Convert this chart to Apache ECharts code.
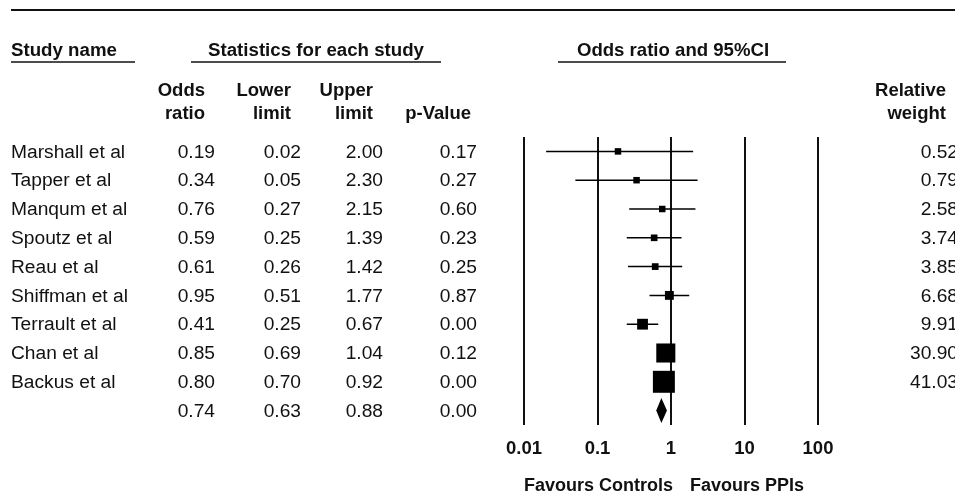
<!DOCTYPE html>
<html>
<head>
<meta charset="utf-8">
<script src="https://cdn.jsdelivr.net/npm/echarts@6/dist/echarts.min.js"></script>
<style>
  html, body { margin: 0; padding: 0; background: #fff; }
  #chart { width: 955px; height: 498px; }
</style>
</head>
<body>
<div id="chart"></div>
<script>
// study table
var studies = ['Marshall et al', 'Tapper et al', 'Manqum et al', 'Spoutz et al', 'Reau et al',
  'Shiffman et al', 'Terrault et al', 'Chan et al', 'Backus et al', ''];
var oddsRatio = [0.19, 0.34, 0.76, 0.59, 0.61, 0.95, 0.41, 0.85, 0.80, 0.74];
var lowerLimit = [0.02, 0.05, 0.27, 0.25, 0.26, 0.51, 0.25, 0.69, 0.70, 0.63];
var upperLimit = [2.00, 2.30, 2.15, 1.39, 1.42, 1.77, 0.67, 1.04, 0.92, 0.88];
var pValue = [0.17, 0.27, 0.60, 0.23, 0.25, 0.87, 0.00, 0.12, 0.00, 0.00];
var relWeight = [0.52, 0.79, 2.58, 3.74, 3.85, 6.68, 9.91, 30.90, 41.03];
var xTicks = ['0.01', '0.1', '1', '10', '100'];

var FONT = '"Liberation Sans", Arial, sans-serif';
var rowIdx = studies.map(function (s, i) { return i; });

var forestData = oddsRatio.map(function (v, i) {
  return [v, i, lowerLimit[i], upperLimit[i], i < relWeight.length ? relWeight[i] : -1];
});
var tableData = rowIdx.map(function (i) { return [1, i]; });

function txt(text, x, y, align, size, bold) {
  return {
    type: 'text',
    style: {
      text: text, x: x, y: y, fill: '#111',
      font: (bold ? 'bold ' : '') + size + 'px ' + FONT,
      align: align, verticalAlign: 'middle'
    }
  };
}
function hline(x1, x2, y, w) {
  return { type: 'line', shape: { x1: x1, y1: y, x2: x2, y2: y }, style: { stroke: '#111', lineWidth: w } };
}

var chart = echarts.init(document.getElementById('chart'));
var option = {
  backgroundColor: '#fff',
  animation: false,
  grid: { left: 524, width: 294, top: 137, height: 288 },
  xAxis: {
    type: 'log', logBase: 10, min: 0.01, max: 100,
    axisLine: { show: false }, axisTick: { show: false },
    splitLine: { show: true, lineStyle: { color: '#111', width: 2 } },
    axisLabel: {
      margin: 14, color: '#111', fontWeight: 'bold', fontSize: 18.5, fontFamily: FONT,
      formatter: function (v) {
        var s = String(parseFloat(v.toPrecision(3)));
        return xTicks.indexOf(s) >= 0 ? s : '';
      }
    }
  },
  yAxis: {
    type: 'category', data: rowIdx, inverse: true, show: false, boundaryGap: true
  },
  graphic: [
    hline(11, 955, 10, 2),
    txt('Study name', 11, 51, 'left', 18.7, true),
    hline(11, 135, 62, 1.5),
    txt('Statistics for each study', 316, 51, 'center', 18.7, true),
    hline(191, 441, 62, 1.5),
    txt('Odds ratio and 95%CI', 673, 51, 'center', 18.6, true),
    hline(558, 786, 62, 1.5),
    txt('Odds', 205, 91, 'right', 18.5, true),
    txt('ratio', 205, 114, 'right', 18.5, true),
    txt('Lower', 291, 91, 'right', 18.5, true),
    txt('limit', 291, 114, 'right', 18.5, true),
    txt('Upper', 373, 91, 'right', 18.5, true),
    txt('limit', 373, 114, 'right', 18.5, true),
    txt('p-Value', 471, 114, 'right', 18.5, true),
    txt('Relative', 946, 91, 'right', 18.5, true),
    txt('weight', 946, 114, 'right', 18.5, true),
    txt('Favours Controls', 524, 486, 'left', 18, true),
    txt('Favours PPIs', 690, 486, 'left', 18, true)
  ],
  series: [
    {
      type: 'custom',
      data: forestData,
      encode: { x: 0, y: 1 },
      renderItem: function (params, api) {
        var or = api.value(0), row = api.value(1);
        var lo = api.coord([api.value(2), row]);
        var hi = api.coord([api.value(3), row]);
        var c = api.coord([or, row]);
        var w = api.value(4);
        if (w < 0) {
          // pooled estimate: diamond
          return {
            type: 'polygon',
            shape: { points: [[lo[0], c[1]], [c[0], c[1] - 12.5], [hi[0], c[1]], [c[0], c[1] + 12.5]] },
            style: { fill: '#000' }
          };
        }
        var s = Math.max(6.5, 3.43 * Math.sqrt(w));
        return {
          type: 'group',
          children: [
            { type: 'line', shape: { x1: lo[0], y1: c[1], x2: hi[0], y2: c[1] }, style: { stroke: '#000', lineWidth: 1.5 } },
            { type: 'rect', shape: { x: c[0] - s / 2, y: c[1] - s / 2, width: s, height: s }, style: { fill: '#000' } }
          ]
        };
      }
    },
    {
      type: 'custom',
      data: tableData,
      encode: { x: 0, y: 1 },
      renderItem: function (params, api) {
        var i = params.dataIndex;
        var y = api.coord([1, api.value(1)])[1] + 1;
        var kids = [
          txt(studies[i], 11, y, 'left', 19.2, false),
          txt(oddsRatio[i].toFixed(2), 215, y, 'right', 19.2, false),
          txt(lowerLimit[i].toFixed(2), 301, y, 'right', 19.2, false),
          txt(upperLimit[i].toFixed(2), 383, y, 'right', 19.2, false),
          txt(pValue[i].toFixed(2), 477, y, 'right', 19.2, false)
        ];
        if (i < relWeight.length) kids.push(txt(relWeight[i].toFixed(2), 958, y, 'right', 19.2, false));
        return { type: 'group', children: kids };
      }
    }
  ]
};
chart.setOption(option);
</script>
</body>
</html>
